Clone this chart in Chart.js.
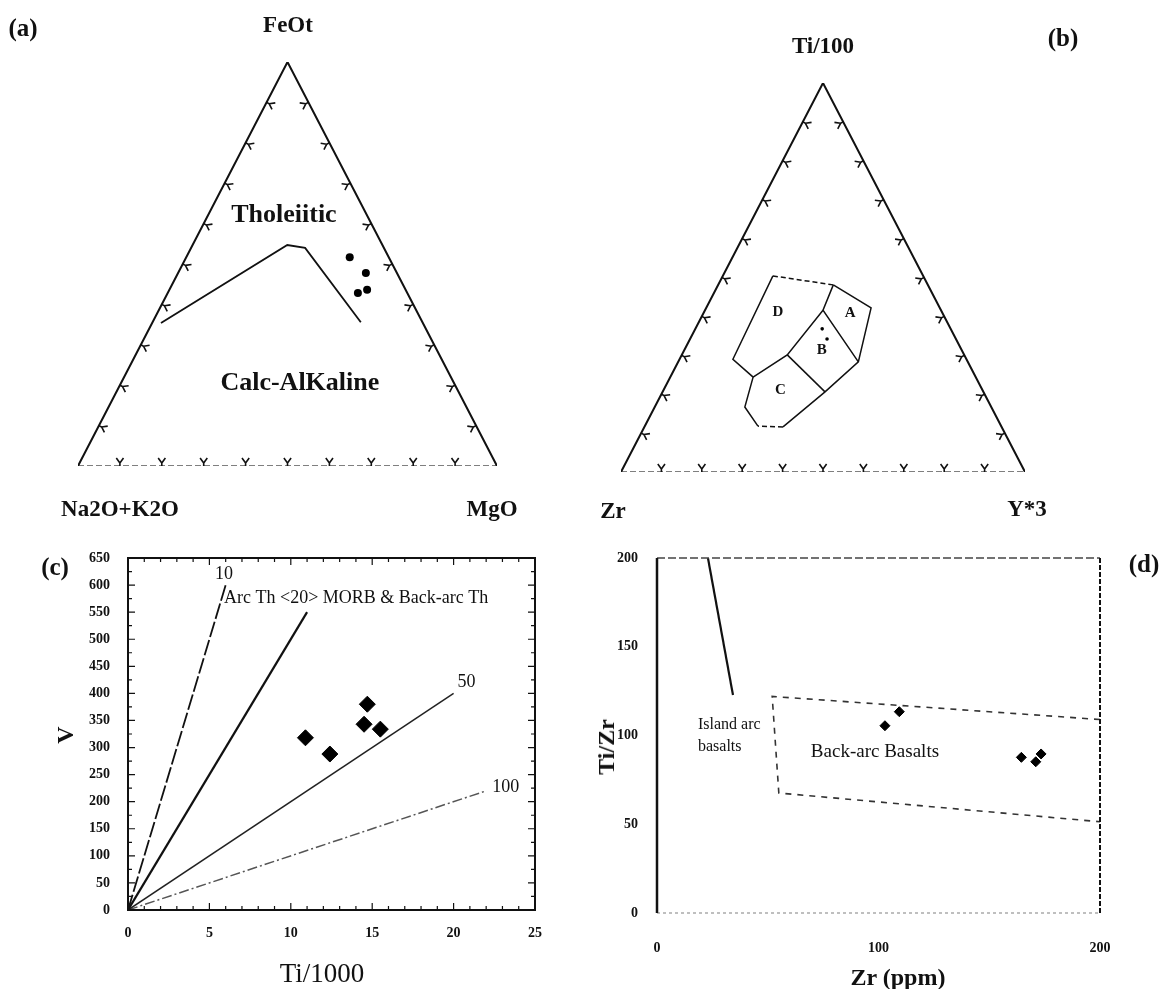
<!DOCTYPE html>
<html lang="en">
<head>
  <meta charset="UTF-8">
  <title>Basalt discrimination diagrams</title>
  <script src="https://cdn.jsdelivr.net/npm/chart.js"></script>
  <style>
    body {
      margin: 0;
      background: #fff;
      font-family: "Liberation Serif", "DejaVu Serif", serif;
      color: #111;
    }
    #page {
      position: relative;
      width: 1169px;
      height: 989px;
      overflow: hidden;
    }
    canvas {
      position: absolute;
    }
    .lbl {
      position: absolute;
      font-weight: bold;
      white-space: nowrap;
      line-height: 1;
      transform: translate(-50%, -50%);
    }
    .rot {
      transform: translate(-50%, -50%) rotate(-90deg);
    }
  </style>
</head>
<body>
  <div id="page">
    <canvas id="chartA" width="580" height="520" style="left:0;top:0"></canvas>
    <canvas id="chartB" width="589" height="520" style="left:580px;top:0"></canvas>
    <canvas id="chartC" width="580" height="469" style="left:0;top:520px"></canvas>
    <canvas id="chartD" width="589" height="469" style="left:580px;top:520px"></canvas>

    <!-- panel letters and apex / axis titles -->
    <div class="lbl" style="left:23px;top:27px;font-size:25px">(a)</div>
    <div class="lbl" style="left:288px;top:24px;font-size:23px">FeOt</div>
    <div class="lbl" style="left:120px;top:508px;font-size:23px">Na2O+K2O</div>
    <div class="lbl" style="left:492px;top:508px;font-size:23px">MgO</div>

    <div class="lbl" style="left:823px;top:45px;font-size:23px">Ti/100</div>
    <div class="lbl" style="left:1063px;top:37px;font-size:25px">(b)</div>
    <div class="lbl" style="left:613px;top:510px;font-size:23px">Zr</div>
    <div class="lbl" style="left:1027px;top:508px;font-size:23px">Y*3</div>

    <div class="lbl" style="left:55px;top:566px;font-size:25px">(c)</div>
    <div class="lbl rot" style="left:65px;top:735px;font-size:24px">V</div>
    <div class="lbl" style="left:322px;top:973px;font-size:27px;font-weight:normal">Ti/1000</div>

    <div class="lbl" style="left:1144px;top:563px;font-size:25px">(d)</div>
    <div class="lbl rot" style="left:606px;top:747px;font-size:24px">Ti/Zr</div>
    <div class="lbl" style="left:898px;top:977px;font-size:24px">Zr (ppm)</div>
  </div>

  <script>
    // ---- (a) AFM diagram: FeOt (top), Na2O+K2O (left), MgO (right), wt% ----
    const afmFeO = [51.7, 47.8, 42.8, 43.6];
    const afmAlk = [9.3, 7.4, 11.8, 9.2];
    const afmMgO = [39.0, 44.8, 45.4, 47.2];
    // tholeiitic / calc-alkaline divide
    const divideFeO = [35.4, 54.7, 54.0, 35.6];
    const divideAlk = [62.5, 22.7, 18.8, 14.7];
    const divideMgO = [2.1, 22.6, 27.2, 49.7];

    // ---- (b) Ti/100 (top), Zr (left), Y*3 (right) ----
    const tzySampleTi = [36.8, 34.2];
    const tzySampleZr = [31.8, 31.9];
    const tzySampleY = [31.4, 33.9];
    // outer outline of fields A-D
    const outlineTi = [50.4, 48.1, 42.2, 28.3, 20.6, 11.6, 11.8, 16.7, 24.4, 29.0, 50.4];
    const outlineZr = [37.2, 23.4, 17.0, 27.1, 39.2, 54.1, 60.2, 61.0, 55.1, 57.8, 37.2];
    const outlineY = [12.4, 28.5, 40.8, 44.6, 40.2, 34.3, 28.0, 22.3, 20.5, 13.2, 12.4];
    // inner field boundaries
    const splitATi = [48.1, 41.6, 28.3], splitAZr = [23.4, 29.2, 27.1], splitAY = [28.5, 29.2, 44.6];
    const splitDTi = [41.6, 30.1, 24.4], splitDZr = [29.2, 43.8, 55.1], splitDY = [29.2, 26.1, 20.5];
    const splitCTi = [30.1, 20.6], splitCZr = [43.8, 39.2], splitCY = [26.1, 40.2];
    const fieldNames = ['A', 'B', 'C', 'D'];
    const fieldTi = [40.9, 31.4, 21.1, 41.1];
    const fieldZr = [22.8, 34.6, 50.0, 40.6];
    const fieldY = [36.3, 34.0, 28.9, 18.3];

    const ternTickValues = [10, 20, 30, 40, 50, 60, 70, 80, 90];

    // ---- (c) V vs Ti/1000 ----
    const sampleTi = [10.9, 12.4, 14.7, 14.5, 15.5];
    const sampleV = [318, 288, 380, 343, 334];
    const ratioNames = ['10', '20', '50', '100'];
    const ratioEndTi = [6, 11, 20, 22];
    const ratioEndV = [600, 550, 400, 220];
    const xTicksC = [0, 5, 10, 15, 20, 25];

    // ---- (d) Ti/Zr vs Zr ----
    const sampleZr = [102.9, 109.4, 164.5, 171.0, 173.4];
    const sampleTiZr = [105.5, 113.4, 87.7, 85.2, 89.6];
    const islandZr = [23, 34.3];
    const islandTiZr = [200, 122.8];
    const backArcZr = [200, 52, 55, 200];
    const backArcTiZr = [109, 122, 67.6, 51.4];

    const serif = '"Liberation Serif", "DejaVu Serif", serif';

    // ternary composition -> x/y in a unit frame (left vertex 0,0; right 1,0; top 0.5,1)
    function tern(top, left, right) {
      const s = top + left + right;
      return { x: (right + top / 2) / s, y: top / s };
    }

    function ternSeries(top, left, right) {
      return top.map((t, i) => tern(t, left[i], right[i]));
    }

    // text placed at data coordinates
    function notesPlugin(items) {
      return {
        id: 'notes',
        afterDatasetsDraw(chart) {
          const { ctx, scales: { x, y } } = chart;
          ctx.save();
          ctx.fillStyle = '#111';
          ctx.textBaseline = 'middle';
          items.forEach(n => {
            ctx.font = (n.weight || 'normal') + ' ' + n.size + 'px ' + serif;
            ctx.textAlign = n.align || 'center';
            ctx.fillText(n.text, x.getPixelForValue(n.x), y.getPixelForValue(n.y));
          });
          ctx.restore();
        }
      };
    }

    // small fork-shaped ticks along the three triangle edges
    function ternTickPlugin(values) {
      return {
        id: 'ternTicks',
        afterDatasetsDraw(chart) {
          const { ctx, scales: { x, y } } = chart;
          const px = p => [x.getPixelForValue(p.x), y.getPixelForValue(p.y)];
          const L = px(tern(0, 100, 0)), R = px(tern(0, 0, 100)), T = px(tern(100, 0, 0));
          const cx = (L[0] + R[0] + T[0]) / 3, cy = (L[1] + R[1] + T[1]) / 3;
          ctx.save();
          ctx.strokeStyle = '#111';
          ctx.lineWidth = 1.6;
          [[L, T], [T, R], [R, L]].forEach(([a, b]) => {
            const dx = b[0] - a[0], dy = b[1] - a[1], len = Math.hypot(dx, dy);
            const tx = dx / len, ty = dy / len;
            let nx = -ty, ny = tx;
            if ((cx - (a[0] + b[0]) / 2) * nx + (cy - (a[1] + b[1]) / 2) * ny < 0) { nx = -nx; ny = -ny; }
            values.forEach(v => {
              const f = v / 100;
              const p = [a[0] + dx * f, a[1] + dy * f];
              const s = [p[0] + nx * 3, p[1] + ny * 3];
              ctx.beginPath();
              ctx.moveTo(p[0], p[1]);
              ctx.lineTo(s[0], s[1]);
              [-1, 1].forEach(k => {
                ctx.moveTo(s[0], s[1]);
                ctx.lineTo(s[0] + nx * 5 + tx * k * 3.6, s[1] + ny * 5 + ty * k * 3.6);
              });
              ctx.stroke();
            });
          });
          ctx.restore();
        }
      };
    }

    const hidden = { display: false, min: 0, max: 1 };
    const quiet = { legend: { display: false }, tooltip: { enabled: false } };

    function edgeSets() {
      return [
        {
          data: [tern(0, 100, 0), tern(100, 0, 0), tern(0, 0, 100)],
          showLine: true, borderColor: '#111', borderWidth: 2, pointRadius: 0
        },
        {
          data: [tern(0, 100, 0), tern(0, 0, 100)],
          showLine: true, borderColor: '#555', borderWidth: 1.6, borderDash: [6, 3], pointRadius: 0
        }
      ];
    }

    // (a)
    new Chart(document.getElementById('chartA'), {
      type: 'scatter',
      data: {
        datasets: [
          ...edgeSets(),
          {
            data: ternSeries(divideFeO, divideAlk, divideMgO),
            showLine: true, borderColor: '#111', borderWidth: 1.8, pointRadius: 0
          },
          {
            data: ternSeries(afmFeO, afmAlk, afmMgO),
            pointRadius: 4, backgroundColor: '#000', borderWidth: 0
          }
        ]
      },
      options: {
        responsive: false,
        animation: false,
        layout: { padding: { left: 78, right: 83, top: 62, bottom: 54 } },
        scales: { x: hidden, y: hidden },
        plugins: quiet
      },
      plugins: [
        ternTickPlugin(ternTickValues),
        notesPlugin([
          Object.assign(tern(62.1, 19.8, 18.1), { text: 'Tholeiitic', size: 26, weight: 'bold' }),
          Object.assign(tern(20.5, 36.8, 42.7), { text: 'Calc-AlKaline', size: 26, weight: 'bold' })
        ])
      ]
    });

    // (b)
    new Chart(document.getElementById('chartB'), {
      type: 'scatter',
      data: {
        datasets: [
          ...edgeSets(),
          {
            data: ternSeries(outlineTi, outlineZr, outlineY),
            showLine: true, borderColor: '#111', borderWidth: 1.5, pointRadius: 0,
            segment: { borderDash: c => (c.p0DataIndex === 0 || c.p0DataIndex === 5) ? [5, 3] : undefined }
          },
          {
            data: ternSeries(splitATi, splitAZr, splitAY),
            showLine: true, borderColor: '#111', borderWidth: 1.5, pointRadius: 0
          },
          {
            data: ternSeries(splitDTi, splitDZr, splitDY),
            showLine: true, borderColor: '#111', borderWidth: 1.5, pointRadius: 0
          },
          {
            data: ternSeries(splitCTi, splitCZr, splitCY),
            showLine: true, borderColor: '#111', borderWidth: 1.5, pointRadius: 0
          },
          {
            data: ternSeries(tzySampleTi, tzySampleZr, tzySampleY),
            pointRadius: 1.8, backgroundColor: '#000', borderWidth: 0
          }
        ]
      },
      options: {
        responsive: false,
        animation: false,
        layout: { padding: { left: 41, right: 144, top: 83, bottom: 48 } },
        scales: { x: hidden, y: hidden },
        plugins: quiet
      },
      plugins: [
        ternTickPlugin(ternTickValues),
        notesPlugin(fieldNames.map((n, i) =>
          Object.assign(tern(fieldTi[i], fieldZr[i], fieldY[i]), { text: n, size: 15, weight: 'bold' })))
      ]
    });

    // (c)
    const ratioStyle = [
      { borderColor: '#111', borderWidth: 1.8, borderDash: [16, 3] },
      { borderColor: '#111', borderWidth: 2.2 },
      { borderColor: '#222', borderWidth: 1.5 },
      { borderColor: '#555', borderWidth: 1.5, borderDash: [10, 3, 2, 3] }
    ];
    const tickFont = { family: serif, size: 14, weight: 'bold' };

    const frameC = {
      id: 'frameC',
      afterDatasetsDraw(chart) {
        const { ctx, chartArea: a, scales: { x, y } } = chart;
        ctx.save();
        ctx.strokeStyle = '#111';
        ctx.lineWidth = 2;
        ctx.strokeRect(a.left, a.top, a.right - a.left, a.bottom - a.top);
        ctx.lineWidth = 1.2;
        ctx.beginPath();
        for (let v = 0; v <= 25; v++) {
          const p = x.getPixelForValue(v), l = v % 5 === 0 ? 7 : 4;
          ctx.moveTo(p, a.bottom); ctx.lineTo(p, a.bottom - l);
          ctx.moveTo(p, a.top); ctx.lineTo(p, a.top + l);
        }
        for (let v = 0; v <= 650; v += 25) {
          const p = y.getPixelForValue(v), l = v % 50 === 0 ? 7 : 4;
          ctx.moveTo(a.left, p); ctx.lineTo(a.left + l, p);
          ctx.moveTo(a.right, p); ctx.lineTo(a.right - l, p);
        }
        ctx.stroke();
        ctx.restore();
      }
    };

    new Chart(document.getElementById('chartC'), {
      type: 'scatter',
      data: {
        datasets: [
          ...ratioNames.map((r, i) => Object.assign({
            label: 'Ti/V = ' + r,
            data: [{ x: 0, y: 0 }, { x: ratioEndTi[i], y: ratioEndV[i] }],
            showLine: true, pointRadius: 0
          }, ratioStyle[i])),
          {
            label: 'samples',
            data: sampleTi.map((t, i) => ({ x: t, y: sampleV[i] })),
            pointStyle: 'rectRot', pointRadius: 8, backgroundColor: '#000', borderColor: '#000'
          }
        ]
      },
      options: {
        responsive: false,
        animation: false,
        layout: { padding: { left: 0, right: 45, top: 38, bottom: 0 } },
        scales: {
          x: {
            min: 0, max: 25,
            afterFit(s) { s.height = 79; },
            afterBuildTicks(s) { s.ticks = xTicksC.map(v => ({ value: v })); },
            grid: { display: false }, border: { display: false },
            ticks: { padding: 7, color: '#111', font: tickFont, autoSkip: false, maxRotation: 0 }
          },
          y: {
            min: 0, max: 650,
            afterFit(s) { s.width = 128; },
            grid: { display: false }, border: { display: false },
            ticks: { stepSize: 50, padding: 10, color: '#111', font: tickFont, autoSkip: false }
          }
        },
        plugins: quiet
      },
      plugins: [
        frameC,
        notesPlugin([
          { x: 5.9, y: 620, text: '10', size: 18 },
          { x: 5.9, y: 576, text: 'Arc Th <20> MORB & Back-arc Th', size: 18, align: 'left' },
          { x: 20.8, y: 421, text: '50', size: 18 },
          { x: 23.2, y: 227, text: '100', size: 18 }
        ])
      ]
    });

    // (d)
    const frameD = {
      id: 'frameD',
      afterDatasetsDraw(chart) {
        const { ctx, chartArea: a } = chart;
        const seg = (x1, y1, x2, y2, color, w, dash) => {
          ctx.beginPath();
          ctx.strokeStyle = color; ctx.lineWidth = w; ctx.setLineDash(dash);
          ctx.moveTo(x1, y1); ctx.lineTo(x2, y2); ctx.stroke();
        };
        ctx.save();
        seg(a.left, a.top, a.right, a.top, '#444', 1.6, [8, 3]);
        seg(a.left, a.bottom, a.right, a.bottom, '#aaa', 1.6, [3, 3]);
        seg(a.left, a.top, a.left, a.bottom, '#111', 2.5, []);
        seg(a.right, a.top, a.right, a.bottom, '#111', 2, [5, 2]);
        ctx.restore();
      }
    };

    new Chart(document.getElementById('chartD'), {
      type: 'scatter',
      data: {
        datasets: [
          {
            label: 'island arc limit',
            data: islandZr.map((z, i) => ({ x: z, y: islandTiZr[i] })),
            showLine: true, borderColor: '#111', borderWidth: 2.2, pointRadius: 0
          },
          {
            label: 'back-arc field',
            data: backArcZr.map((z, i) => ({ x: z, y: backArcTiZr[i] })),
            showLine: true, borderColor: '#333', borderWidth: 1.6, borderDash: [6, 6], pointRadius: 0
          },
          {
            label: 'samples',
            data: sampleZr.map((z, i) => ({ x: z, y: sampleTiZr[i] })),
            pointStyle: 'rectRot', pointRadius: 5, backgroundColor: '#000', borderColor: '#000'
          }
        ]
      },
      options: {
        responsive: false,
        animation: false,
        layout: { padding: { left: 0, right: 69, top: 38, bottom: 0 } },
        scales: {
          x: {
            min: 0, max: 200,
            afterFit(s) { s.height = 76; },
            grid: { display: false }, border: { display: false },
            ticks: { stepSize: 100, padding: 19, color: '#111', font: tickFont, autoSkip: false, maxRotation: 0 }
          },
          y: {
            min: 0, max: 200,
            afterFit(s) { s.width = 77; },
            grid: { display: false }, border: { display: false },
            ticks: { stepSize: 50, padding: 11, color: '#111', font: tickFont, autoSkip: false }
          }
        },
        plugins: quiet
      },
      plugins: [
        frameD,
        notesPlugin([
          { x: 18.5, y: 105.9, text: 'Island arc', size: 16, align: 'left' },
          { x: 18.5, y: 93.5, text: 'basalts', size: 16, align: 'left' },
          { x: 98.4, y: 90.7, text: 'Back-arc Basalts', size: 19 }
        ])
      ]
    });
  </script>
</body>
</html>
